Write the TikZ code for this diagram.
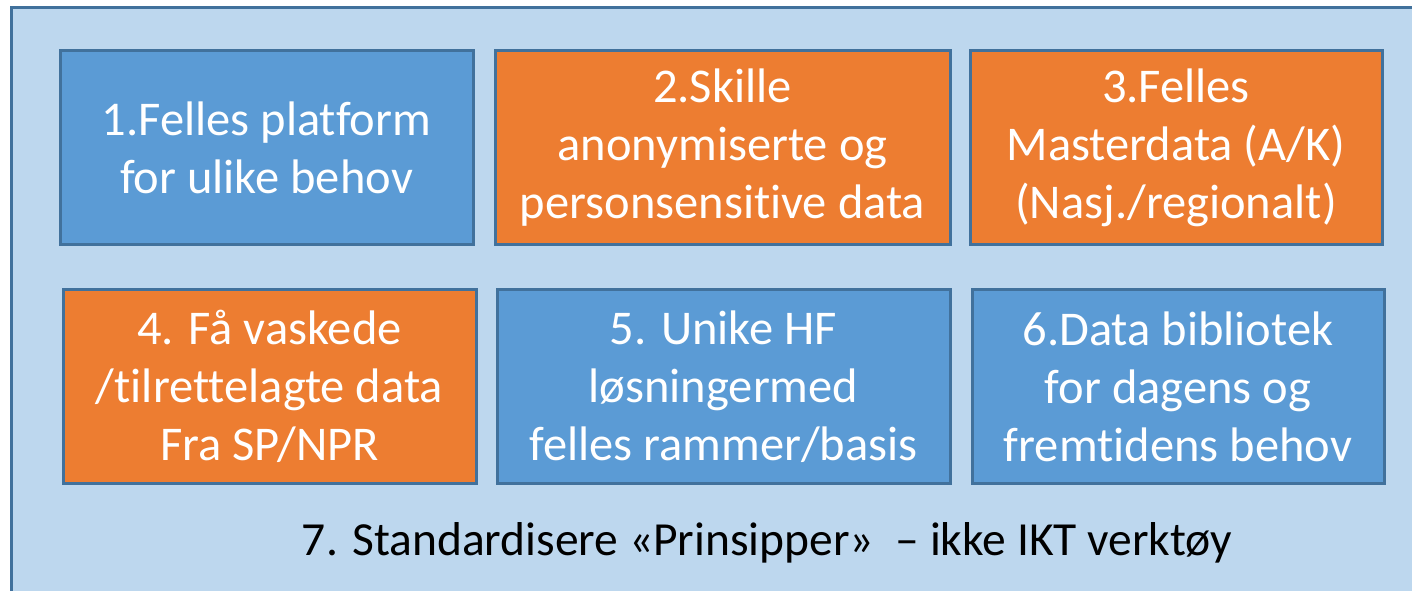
\documentclass[tikz,border=0pt]{standalone}
\usepackage{fontspec}
\setmainfont[Ligatures=NoCommon]{Carlito}
\definecolor{bgfill}{HTML}{BDD7EE}
\definecolor{edge}{HTML}{41719C}
\definecolor{boxblue}{HTML}{5B9BD5}
\definecolor{boxorange}{HTML}{ED7D31}
\tikzset{
  cell/.style={draw=edge, line width=3pt, text=white, align=center, minimum height=194pt, inner sep=0pt,
    font=\fontsize{48.5}{58}\selectfont},
  bluecell/.style={cell, fill=boxblue},
  orangecell/.style={cell, fill=boxorange},
}
\begin{document}
\begin{tikzpicture}[x=1pt,y=-1pt]
\useasboundingbox (0,0) rectangle (1412,590);
\begin{scope}
\clip (0,0) rectangle (1412,590);
\draw[draw=edge, fill=bgfill, line width=3pt] (11.5,7.5) rectangle (1440,620);
\end{scope}
\node[bluecell, minimum width=413pt] (n1) at (266.5,147.5) {1.Felles platform\\for ulike behov};
\node[orangecell, minimum width=455pt] (n2) at (722.5,147.5) {2.Skille\\anonymiserte og\\personsensitive data};
\node[orangecell, minimum width=412pt] (n3) at (1176,147.5) {3.Felles\\Masterdata (A/K)\\(Nasj./regionalt)};
\node[orangecell, minimum width=413pt] (n4) at (269.5,386.5) {4. Få vaskede\\/tilrettelagte data\\Fra SP/NPR};
\node[bluecell, minimum width=453pt] (n5) at (723.5,386.5) {5. Unike HF\\løsningermed\\felles rammer/basis};
\node[bluecell, minimum width=412pt] (n6) at (1178,386.5) {6.Data bibliotek\\for dagens og\\fremtidens behov};
\node[font=\fontsize{47.5}{56}\selectfont, text=black] (n7) at (767,543) {7. Standardisere «Prinsipper»\ \ – ikke IKT verktøy};
\end{tikzpicture}
\end{document}
